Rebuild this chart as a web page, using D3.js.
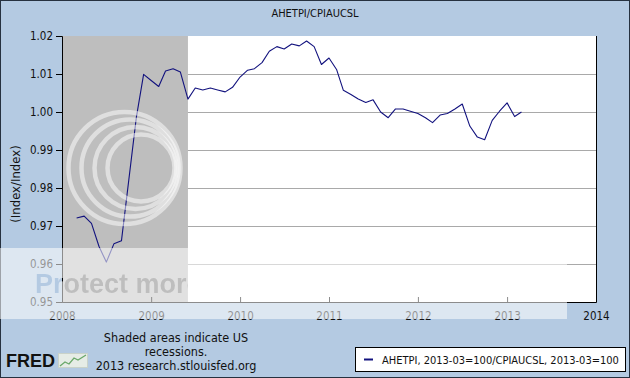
<!DOCTYPE html>
<html>
<head>
<meta charset="utf-8">
<script src="https://cdn.jsdelivr.net/npm/d3@7"></script>
<style>
  body { margin: 0; background: #fff; }
  svg { display: block; }
  text { font-family: Tahoma, 'DejaVu Sans Condensed', 'DejaVu Sans', sans-serif; }
</style>
</head>
<body>
<svg id="chart" width="630" height="378"></svg>
<script>
// monthly observations, 2008-03 .. 2013-03
const months = [
  '2008-03', '2008-04', '2008-05', '2008-06', '2008-07', '2008-08', '2008-09', '2008-10', '2008-11', '2008-12',
  '2009-01', '2009-02', '2009-03', '2009-04', '2009-05', '2009-06', '2009-07', '2009-08', '2009-09', '2009-10', '2009-11', '2009-12',
  '2010-01', '2010-02', '2010-03', '2010-04', '2010-05', '2010-06', '2010-07', '2010-08', '2010-09', '2010-10', '2010-11', '2010-12',
  '2011-01', '2011-02', '2011-03', '2011-04', '2011-05', '2011-06', '2011-07', '2011-08', '2011-09', '2011-10', '2011-11', '2011-12',
  '2012-01', '2012-02', '2012-03', '2012-04', '2012-05', '2012-06', '2012-07', '2012-08', '2012-09', '2012-10', '2012-11', '2012-12',
  '2013-01', '2013-02', '2013-03'
];
const ratio = [
  0.9721, 0.9726, 0.9707, 0.9646, 0.9605, 0.9653, 0.9661, 0.9820, 0.9985, 1.0099,
  1.0083, 1.0067, 1.0108, 1.0114, 1.0105, 1.0034, 1.0063, 1.0058, 1.0063, 1.0058, 1.0053, 1.0065,
  1.0092, 1.0110, 1.0114, 1.0130, 1.0160, 1.0172, 1.0166, 1.0179, 1.0174, 1.0187, 1.0172, 1.0125,
  1.0142, 1.0112, 1.0057, 1.0046, 1.0034, 1.0025, 1.0032, 1.0000, 0.9985, 1.0008, 1.0008, 1.0002,
  0.9996, 0.9985, 0.9972, 0.9992, 0.9996, 1.0008, 1.0021, 0.9963, 0.9934, 0.9927, 0.9978, 1.0002,
  1.0024, 0.9988, 1.0000
];
const yTicks = [0.95, 0.96, 0.97, 0.98, 0.99, 1.00, 1.01, 1.02];
const yearTicks = ['2008', '2009', '2010', '2011', '2012', '2013', '2014'];
const recessions = [['2008-01', '2009-06']];
const title = 'AHETPI/CPIAUCSL';
const yLabel = '(Index/Index)';
const seriesName = 'AHETPI, 2013-03=100/CPIAUCSL, 2013-03=100';
const notes = ['Shaded areas indicate US', 'recessions.', '2013 research.stlouisfed.org'];

const parseMonth = d3.timeParse('%Y-%m');
const parseYear = d3.timeParse('%Y');
const data = months.map((m, i) => ({ date: parseMonth(m), value: ratio[i] }));

const svg = d3.select('#chart');
const plotLeft = 62, plotRight = 596, plotTop = 36, plotBottom = 302;

const x = d3.scaleTime()
  .domain([parseYear('2008'), parseYear('2014')])
  .range([plotLeft, plotRight]);
const y = d3.scaleLinear()
  .domain([0.95, 1.02])
  .range([plotBottom, plotTop]);

// page background + frame
svg.append('rect')
  .attr('x', 0.5).attr('y', 0.5)
  .attr('width', 629).attr('height', 377)
  .attr('fill', '#b4cae2')
  .attr('stroke', '#26313f');

svg.append('text')
  .attr('x', 315).attr('y', 17)
  .attr('text-anchor', 'middle')
  .style('font-size', '11px')
  .attr('fill', '#111')
  .text(title);

// plot area
svg.append('rect')
  .attr('x', plotLeft).attr('y', plotTop)
  .attr('width', plotRight - plotLeft).attr('height', plotBottom - plotTop)
  .attr('fill', '#fff');

// grid lines
svg.append('g')
  .attr('transform', `translate(${plotLeft},0)`)
  .call(d3.axisRight(y).tickValues(yTicks.slice(1, -1)).tickSize(plotRight - plotLeft).tickFormat(''))
  .call(g => g.select('.domain').remove())
  .call(g => g.selectAll('line').attr('stroke', '#a9a9a9'));

// recession shading
svg.append('g')
  .selectAll('rect')
  .data(recessions)
  .join('rect')
  .attr('x', d => Math.max(plotLeft, x(parseMonth(d[0]))))
  .attr('y', plotTop)
  .attr('width', d => x(parseMonth(d[1])) - Math.max(plotLeft, x(parseMonth(d[0]))))
  .attr('height', plotBottom - plotTop)
  .attr('fill', '#bebebe');

// y axis
svg.append('g')
  .attr('transform', `translate(${plotLeft},0)`)
  .call(d3.axisLeft(y).tickValues(yTicks).tickFormat(d3.format('.2f')).tickSize(6).tickPadding(3))
  .call(g => g.select('.domain').attr('stroke', '#000'))
  .call(g => g.selectAll('text').style('font-size', '11.5px').attr('fill', '#111'));

// x axis: ticks point inward
svg.append('g')
  .attr('transform', `translate(0,${plotBottom})`)
  .call(d3.axisBottom(x).tickValues(yearTicks.map(parseYear)).tickFormat(d3.timeFormat('%Y')).tickSize(-5).tickPadding(10))
  .call(g => g.select('.domain').attr('stroke', '#000'))
  .call(g => g.selectAll('text').style('font-size', '11.5px').attr('fill', '#111'));

// right border of plot
svg.append('line')
  .attr('x1', plotRight + 0.5).attr('x2', plotRight + 0.5)
  .attr('y1', plotTop).attr('y2', plotBottom)
  .attr('stroke', '#000');

svg.append('text')
  .attr('transform', 'translate(20,184) rotate(-90)')
  .attr('text-anchor', 'middle')
  .style('font-size', '13px')
  .attr('fill', '#111')
  .text(yLabel);

// series
const line = d3.line()
  .x(d => x(d.date))
  .y(d => y(d.value));

svg.append('path')
  .datum(data)
  .attr('d', line)
  .attr('fill', 'none')
  .attr('stroke', '#12127e')
  .attr('stroke-width', 1.1)
  .attr('stroke-linejoin', 'round');

// footer notes
svg.append('text')
  .attr('text-anchor', 'middle')
  .style('font-size', '12.5px')
  .attr('fill', '#111')
  .selectAll('tspan')
  .data(notes)
  .join('tspan')
  .attr('x', 176)
  .attr('y', (d, i) => 342 + 14 * i)
  .text(d => d);

// FRED logo
svg.append('text')
  .attr('x', 6).attr('y', 367)
  .style('font-family', "'Liberation Sans', Arial, sans-serif")
  .style('font-size', '18px')
  .style('font-weight', 'bold')
  .attr('fill', '#111')
  .text('FRED');
svg.append('rect')
  .attr('x', 58.5).attr('y', 353.5)
  .attr('width', 29).attr('height', 14)
  .attr('fill', '#e6ece6')
  .attr('stroke', '#c9d2c9');
svg.append('polyline')
  .attr('points', '60,366 65,362 69,364 74,358 78,360 86,355')
  .attr('fill', 'none')
  .attr('stroke', '#6aa86a')
  .attr('stroke-width', 1.3);

// legend
const legend = svg.append('g');
legend.append('rect')
  .attr('x', 355.5).attr('y', 347.5)
  .attr('width', 270).attr('height', 24)
  .attr('fill', '#fff')
  .attr('stroke', '#000');
legend.append('line')
  .attr('x1', 364).attr('x2', 373)
  .attr('y1', 359.5).attr('y2', 359.5)
  .attr('stroke', '#12127e')
  .attr('stroke-width', 2);
legend.append('text')
  .attr('x', 382).attr('y', 363.5)
  .style('font-size', '11px')
  .attr('fill', '#111')
  .text(seriesName);

// image-host watermark overlay
const defs = svg.append('defs');
const mask = defs.append('mask').attr('id', 'wm');
mask.append('rect')
  .attr('x', 0).attr('y', 248)
  .attr('width', 567).attr('height', 71)
  .attr('fill', '#fff');
mask.append('text')
  .attr('x', 35).attr('y', 293)
  .style('font-family', "'Liberation Sans', Arial, sans-serif")
  .style('font-size', '27px')
  .style('font-weight', 'bold')
  .attr('fill', '#000')
  .text('Protect more of your memories for less!');
svg.append('rect')
  .attr('x', 0).attr('y', 248)
  .attr('width', 567).attr('height', 71)
  .attr('fill', '#fff')
  .attr('opacity', 0.55)
  .attr('mask', 'url(#wm)');

const rings = [[124.5, 56], [130, 48.5], [135.5, 41], [141, 33.5]];
svg.append('g')
  .selectAll('circle')
  .data(rings)
  .join('circle')
  .attr('cx', d => d[0])
  .attr('cy', 168)
  .attr('r', d => d[1])
  .attr('fill', 'none')
  .attr('stroke', '#fff')
  .attr('stroke-opacity', 0.5)
  .attr('stroke-width', 4.5);
</script>
</body>
</html>
